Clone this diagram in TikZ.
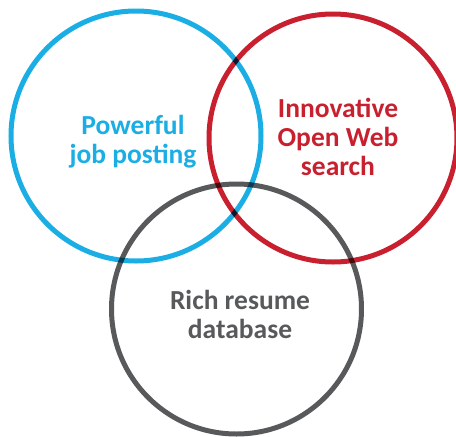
\documentclass[tikz,border=0pt]{standalone}
\usepackage{fontspec}
\setmainfont{Carlito}
\usepackage{tikz}
\definecolor{skyblue}{HTML}{1BAEE4}
\definecolor{webred}{HTML}{C8202F}
\definecolor{darkgrey}{HTML}{58595B}
\tikzset{
  ring/.style={line width=5pt, blend mode=multiply},
  label/.style={font=\bfseries\fontsize{27.5}{29}\selectfont, align=center, inner sep=0pt}
}

\begin{document}
\begin{tikzpicture}[x=1pt, y=-1pt]
			%%%%% START %%%%%
			\useasboundingbox (0, 0) rectangle (456, 437);
			
			\draw[ring, skyblue] (136, 136) circle (125pt);
			\draw[ring, webred] (333, 138) circle (124pt);
			\draw[ring, darkgrey] (236.5, 309) circle (125pt);
			
			\node[label, text=skyblue] (posting) at (133, 141.5) {Powerful\\job posting};
			\node[label, text=webred] (search) at (338, 137) {Innovative\\Open Web\\search};
			\node[label, text=darkgrey] (resume) at (240, 314.5) {Rich resume\\database};
			%%%%% END %%%%%
\end{tikzpicture}
\end{document}
